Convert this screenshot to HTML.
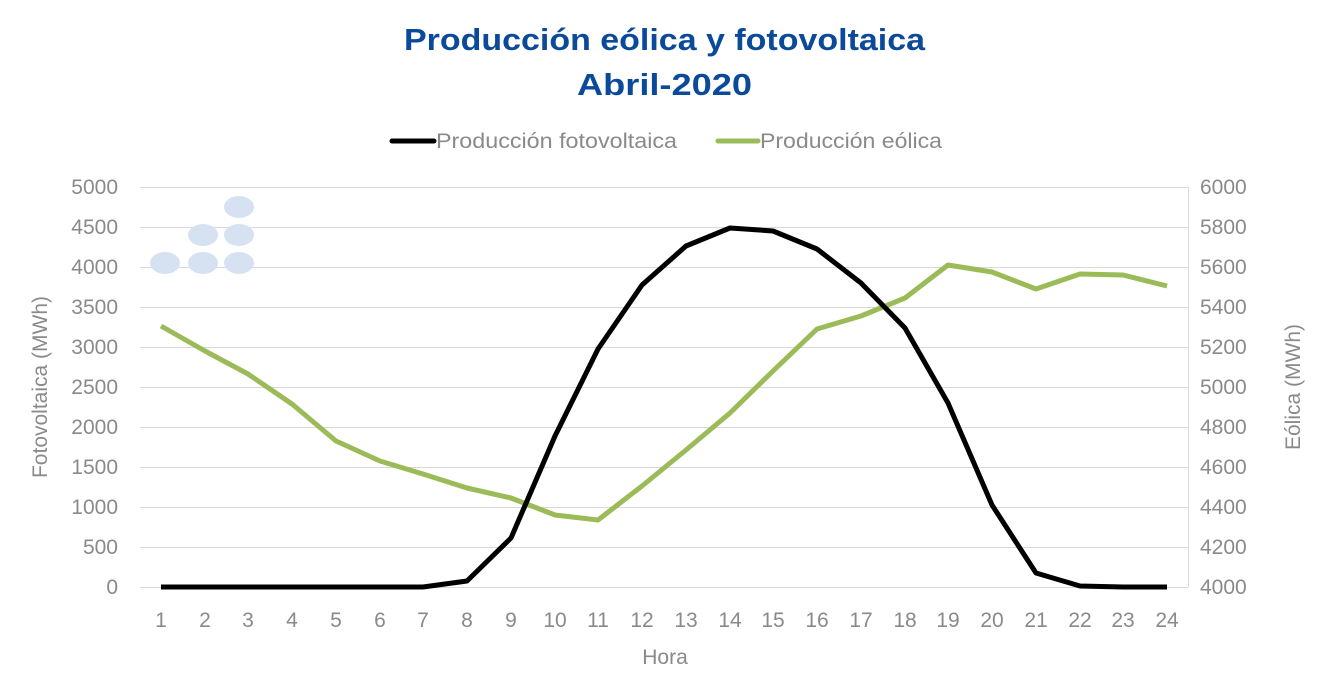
<!DOCTYPE html>
<html><head><meta charset="utf-8"><style>body{margin:0;background:#fff}</style></head><body>
<svg width="1320" height="685" xmlns="http://www.w3.org/2000/svg" font-family="Liberation Sans, sans-serif">
<text x="404" y="50" font-size="31" font-weight="bold" fill="#0b4a9b" textLength="521" lengthAdjust="spacingAndGlyphs">Producción eólica y fotovoltaica</text>
<text x="577" y="95" font-size="31" font-weight="bold" fill="#0b4a9b" textLength="175" lengthAdjust="spacingAndGlyphs">Abril-2020</text>
<line x1="392" y1="141" x2="434" y2="141" stroke="#000" stroke-width="5" stroke-linecap="round"/>
<text x="436" y="148" font-size="21" fill="#8a8a8a" textLength="241" lengthAdjust="spacingAndGlyphs">Producción fotovoltaica</text>
<line x1="718" y1="141" x2="758" y2="141" stroke="#9bbb59" stroke-width="5" stroke-linecap="round"/>
<text x="760" y="148" font-size="21" fill="#8a8a8a" textLength="182" lengthAdjust="spacingAndGlyphs">Producción eólica</text>
<g stroke="#d9d9d9" stroke-width="1">
<line x1="140" y1="187.5" x2="1188" y2="187.5"/><line x1="140" y1="227.5" x2="1188" y2="227.5"/><line x1="140" y1="267.5" x2="1188" y2="267.5"/><line x1="140" y1="307.5" x2="1188" y2="307.5"/><line x1="140" y1="347.5" x2="1188" y2="347.5"/><line x1="140" y1="387.5" x2="1188" y2="387.5"/><line x1="140" y1="427.5" x2="1188" y2="427.5"/><line x1="140" y1="467.5" x2="1188" y2="467.5"/><line x1="140" y1="507.5" x2="1188" y2="507.5"/><line x1="140" y1="547.5" x2="1188" y2="547.5"/>
<line x1="140" y1="587.5" x2="1188" y2="587.5"/><line x1="1188.5" y1="187" x2="1188.5" y2="587"/>
</g>
<g fill="#d6e2f1"><ellipse cx="165" cy="263" rx="15" ry="11"/><ellipse cx="203" cy="263" rx="15" ry="11"/><ellipse cx="239" cy="263" rx="15" ry="11"/><ellipse cx="203" cy="235" rx="15" ry="11"/><ellipse cx="239" cy="235" rx="15" ry="11"/><ellipse cx="239" cy="207" rx="15" ry="11"/></g>
<g font-size="21" fill="#8a8a8a" text-anchor="end">
<text x="118" y="194">5000</text><text x="118" y="234">4500</text><text x="118" y="274">4000</text><text x="118" y="314">3500</text><text x="118" y="354">3000</text><text x="118" y="394">2500</text><text x="118" y="434">2000</text><text x="118" y="474">1500</text><text x="118" y="514">1000</text><text x="118" y="554">500</text><text x="118" y="594">0</text>
</g>
<g font-size="21" fill="#8a8a8a" text-anchor="start">
<text x="1200" y="194">6000</text><text x="1200" y="234">5800</text><text x="1200" y="274">5600</text><text x="1200" y="314">5400</text><text x="1200" y="354">5200</text><text x="1200" y="394">5000</text><text x="1200" y="434">4800</text><text x="1200" y="474">4600</text><text x="1200" y="514">4400</text><text x="1200" y="554">4200</text><text x="1200" y="594">4000</text>
</g>
<g font-size="21" fill="#8a8a8a" text-anchor="middle">
<text x="161" y="627">1</text><text x="205" y="627">2</text><text x="248" y="627">3</text><text x="292" y="627">4</text><text x="336" y="627">5</text><text x="380" y="627">6</text><text x="423" y="627">7</text><text x="467" y="627">8</text><text x="511" y="627">9</text><text x="555" y="627">10</text><text x="598" y="627">11</text><text x="642" y="627">12</text><text x="686" y="627">13</text><text x="730" y="627">14</text><text x="773" y="627">15</text><text x="817" y="627">16</text><text x="861" y="627">17</text><text x="905" y="627">18</text><text x="948" y="627">19</text><text x="992" y="627">20</text><text x="1036" y="627">21</text><text x="1080" y="627">22</text><text x="1123" y="627">23</text><text x="1167" y="627">24</text>
<text x="665" y="664">Hora</text>
<text transform="translate(47,387) rotate(-90)">Fotovoltaica (MWh)</text>
<text transform="translate(1300,387) rotate(-90)">Eólica (MWh)</text>
</g>
<polyline fill="none" stroke="#9bbb59" stroke-width="5" stroke-linejoin="round" points="161,326 205,351 248,374 292,404 336,441 380,461 423,474 467,488 511,498 555,515 598,520 642,486 686,450 730,413 773,371 817,329 861,316 905,298 948,265 992,272 1036,289 1080,274 1123,275 1167,286"/>
<polyline fill="none" stroke="#000" stroke-width="5" stroke-linejoin="round" points="161,587 205,587 248,587 292,587 336,587 380,587 423,587 467,581 511,538 555,436 598,349 642,285 686,246 730,228 773,231 817,249 861,283 905,328 948,403 992,505 1036,573 1080,586 1123,587 1167,587"/>
</svg>
</body></html>
